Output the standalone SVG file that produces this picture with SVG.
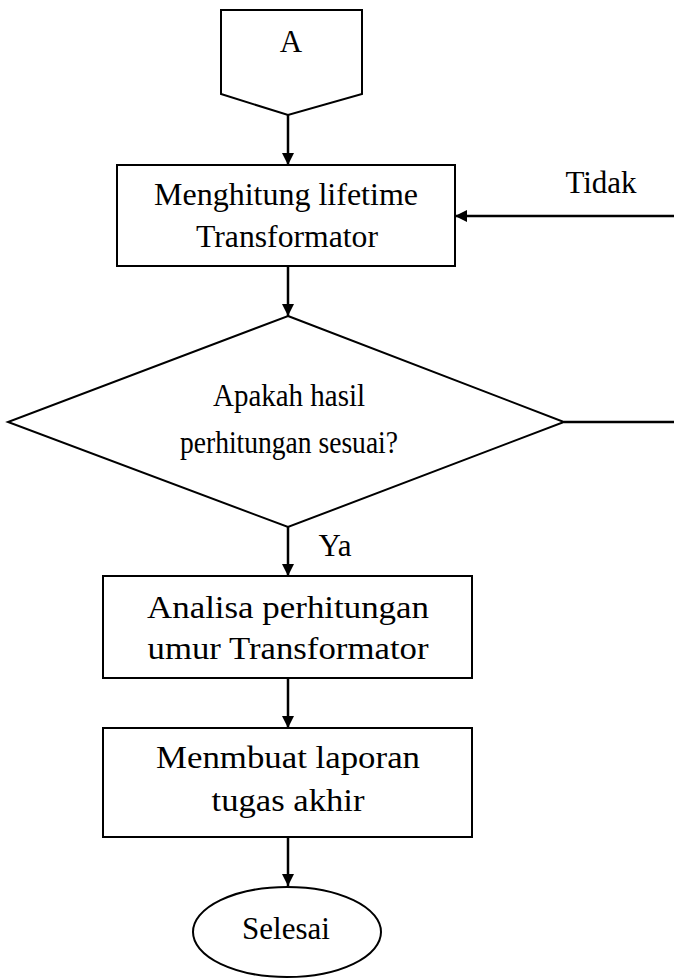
<svg xmlns="http://www.w3.org/2000/svg" width="674" height="978" viewBox="0 0 674 978">
<style>
.s{fill:#fff;stroke:#000;stroke-width:2}
.c{stroke:#000;stroke-width:2.5;fill:none}
.t{font-family:"Liberation Serif","Times New Roman",Times,serif;font-size:31px;fill:#000;text-anchor:middle}
</style>
<defs>
<marker id="ah" viewBox="0 0 10 10" refX="10" refY="5" markerWidth="12" markerHeight="14" markerUnits="userSpaceOnUse" orient="auto">
<path d="M0,0 L10,5 L0,10 z" fill="#000"/>
</marker>
</defs>
<rect width="674" height="978" fill="#fff"/>
<g id="connectors">
<line class="c" x1="288" y1="115" x2="288" y2="165" marker-end="url(#ah)"/>
<line class="c" x1="288" y1="266" x2="288" y2="316" marker-end="url(#ah)"/>
<line class="c" x1="288" y1="527" x2="288" y2="576" marker-end="url(#ah)"/>
<line class="c" x1="288" y1="678" x2="288" y2="728" marker-end="url(#ah)"/>
<line class="c" x1="288" y1="837" x2="288" y2="886" marker-end="url(#ah)"/>
<line class="c" x1="564" y1="422" x2="674" y2="422"/>
<line class="c" x1="674" y1="216" x2="455" y2="216" marker-end="url(#ah)"/>
<text class="t" x="601" y="193">Tidak</text>
<text class="t" x="335" y="556">Ya</text>
</g>
<g id="offpage-A">
<path class="s" d="M221,10 H362 V94 L288,115 L221,94 Z"/>
<text class="t" x="291" y="52">A</text>
</g>
<g id="hitung">
<rect class="s" x="117" y="165" width="338" height="101"/>
<text class="t" x="286" y="205" textLength="264" lengthAdjust="spacingAndGlyphs">Menghitung lifetime</text>
<text class="t" x="287" y="247" textLength="182" lengthAdjust="spacingAndGlyphs">Transformator</text>
</g>
<g id="decision">
<path class="s" d="M288,316 L564,422 L288,527 L8,422 Z"/>
<text class="t" x="289" y="406" style="font-size:32px" textLength="152" lengthAdjust="spacingAndGlyphs">Apakah hasil</text>
<text class="t" x="289" y="453" style="font-size:32px" textLength="218" lengthAdjust="spacingAndGlyphs">perhitungan sesuai?</text>
</g>
<g id="analisa">
<rect class="s" x="103" y="576" width="369" height="102"/>
<text class="t" x="288" y="618" textLength="282" lengthAdjust="spacingAndGlyphs">Analisa perhitungan</text>
<text class="t" x="288" y="659" textLength="281" lengthAdjust="spacingAndGlyphs">umur Transformator</text>
</g>
<g id="laporan">
<rect class="s" x="103" y="728" width="369" height="109"/>
<text class="t" x="288" y="768" textLength="264" lengthAdjust="spacingAndGlyphs">Menmbuat laporan</text>
<text class="t" x="288" y="811" textLength="153" lengthAdjust="spacingAndGlyphs">tugas akhir</text>
</g>
<g id="selesai">
<ellipse class="s" cx="287" cy="932" rx="94" ry="45"/>
<text class="t" x="286" y="939">Selesai</text>
</g>
</svg>
